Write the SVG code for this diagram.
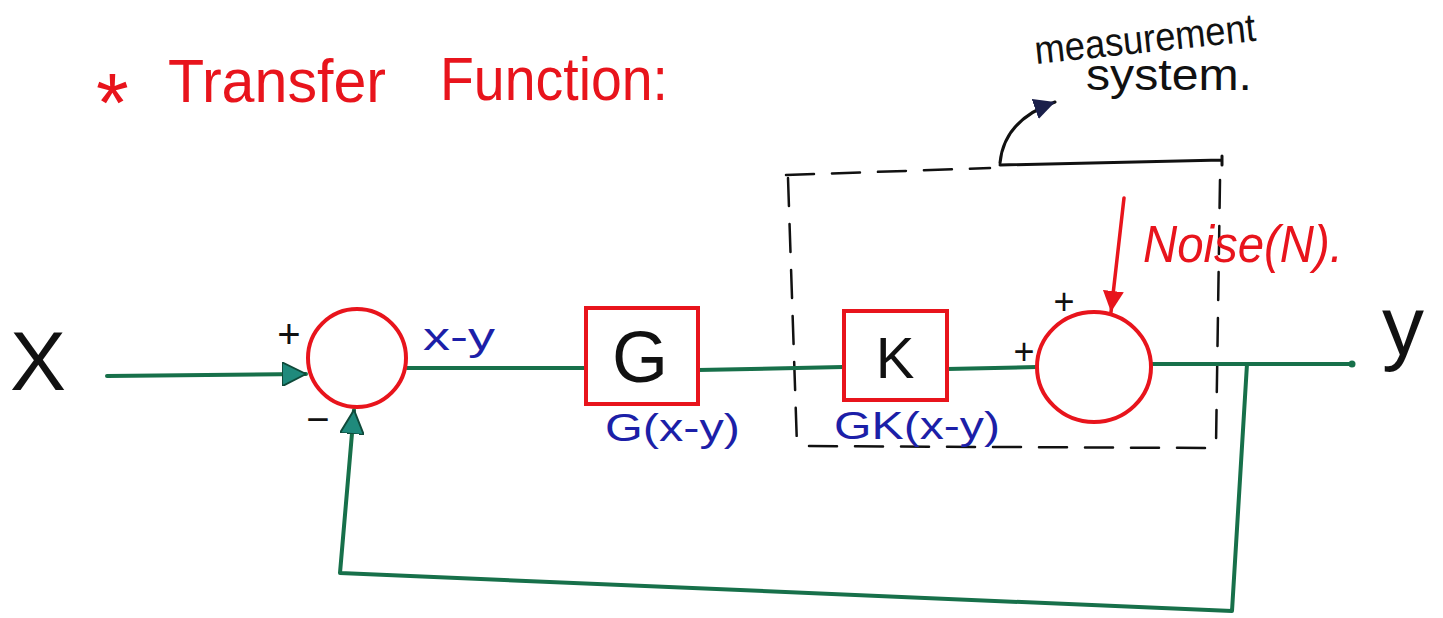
<svg xmlns="http://www.w3.org/2000/svg" width="1443" height="618" viewBox="0 0 1443 618">
<style>
.hand{font-family:"Liberation Sans","DejaVu Sans",sans-serif;}
.red{fill:#e8141c;}
.blue{fill:#1c1fa8;}
.blk{fill:#111;}
.wire{fill:none;stroke:#17704a;stroke-width:4;stroke-linecap:round;stroke-linejoin:round;}
.rbox{fill:none;stroke:#e8141c;stroke-width:4;}
.dash{fill:none;stroke:#111;stroke-width:2.5;stroke-dasharray:28 18;stroke-linecap:round;}
</style>
<defs>
<marker id="tealHead" viewBox="0 0 10 10" refX="10" refY="5" markerWidth="6" markerHeight="6" orient="auto" markerUnits="strokeWidth">
<path d="M0,0 L10,5 L0,10 Z" fill="#1f8a7c" stroke="#0f4a3a" stroke-width="0.8"/>
</marker>
<marker id="redHead" viewBox="0 0 10 10" refX="10" refY="5" markerWidth="6" markerHeight="6" orient="auto" markerUnits="strokeWidth">
<path d="M0,0 L10,5 L0,10 Z" fill="#e8141c"/>
</marker>
<marker id="navyHead" viewBox="0 0 10 10" refX="10" refY="5" markerWidth="7" markerHeight="7" orient="auto" markerUnits="strokeWidth">
<path d="M0,0 L10,5 L0,10 Z" fill="#1a1f4a"/>
</marker>
</defs>
<rect width="1443" height="618" fill="#ffffff"/>

<g id="title">
<text class="hand red" font-size="84" x="96" y="132">*</text>
<text class="hand red" font-size="62" x="168" y="102" textLength="218" lengthAdjust="spacingAndGlyphs">Transfer</text>
<text class="hand red" font-size="62" x="440" y="100" textLength="228" lengthAdjust="spacingAndGlyphs">Function:</text>
</g>

<g id="measurement-label">
<text class="hand blk" font-size="40" x="1036" y="64" transform="rotate(-6 1036 64)" textLength="222" lengthAdjust="spacingAndGlyphs">measurement</text>
<text class="hand blk" font-size="44" x="1086" y="90" textLength="166" lengthAdjust="spacingAndGlyphs">system.</text>
</g>

<g id="measurement-box">
<path class="dash" d="M786,175 L990,168"/>
<path fill="none" stroke="#111" stroke-width="3" stroke-linecap="round" d="M1000,165 L1222,160 M1222,156 L1222,165"/>
<path class="dash" d="M1220,180 L1216,445"/>
<path class="dash" d="M1205,448 L796,446"/>
<path class="dash" d="M788,178 L797,446"/>
<path fill="none" stroke="#111" stroke-width="3" stroke-linecap="round" d="M1000,163 Q1004,120 1055,102" marker-end="url(#navyHead)"/>
</g>

<g id="connectors">
<path class="wire" d="M107,376 L306,374" marker-end="url(#tealHead)"/>
<path class="wire" d="M407,368 L585,368"/>
<path class="wire" d="M698,370 L843,367"/>
<path class="wire" d="M947,369 L1037,367"/>
<path class="wire" d="M1152,364 L1352,364"/>
<circle cx="1352" cy="364" r="3.5" fill="#17704a"/>
<path class="wire" d="M1247,364 L1232,611 L340,573 L354,410" marker-end="url(#tealHead)"/>
<path fill="none" stroke="#e8141c" stroke-width="3.5" stroke-linecap="round" d="M1124,198 L1111,312" marker-end="url(#redHead)"/>
</g>

<g id="input-x">
<text class="hand blk" font-size="84" x="10" y="390">X</text>
</g>

<g id="sum1">
<ellipse class="rbox" cx="357" cy="358" rx="49" ry="49"/>
<text class="hand blk" font-size="40" x="289" y="348" text-anchor="middle">+</text>
<text class="hand blk" font-size="40" x="318" y="433" text-anchor="middle">−</text>
<text class="hand blue" font-size="38" x="423" y="350" textLength="72" lengthAdjust="spacingAndGlyphs">x-y</text>
</g>

<g id="block-g">
<rect class="rbox" x="586" y="308" width="112" height="96"/>
<text class="hand blk" font-size="72" x="640" y="382" text-anchor="middle">G</text>
<text class="hand blue" font-size="38" x="605" y="441" textLength="135" lengthAdjust="spacingAndGlyphs">G(x-y)</text>
</g>

<g id="block-k">
<rect class="rbox" x="844" y="311" width="103" height="89"/>
<text class="hand blk" font-size="58" x="895" y="378" text-anchor="middle">K</text>
<text class="hand blue" font-size="38" x="834" y="439" textLength="166" lengthAdjust="spacingAndGlyphs">GK(x-y)</text>
</g>

<g id="sum2">
<ellipse class="rbox" cx="1094" cy="367" rx="57" ry="55"/>
<text class="hand blk" font-size="36" x="1024" y="364" text-anchor="middle">+</text>
<text class="hand blk" font-size="36" x="1064" y="314" text-anchor="middle">+</text>
</g>

<g id="noise">
<text class="hand red" font-size="52" font-style="italic" x="1143" y="262" textLength="200" lengthAdjust="spacingAndGlyphs">Noise(N).</text>
</g>

<g id="output-y">
<text class="hand blk" font-size="84" x="1382" y="355">y</text>
</g>
</svg>
